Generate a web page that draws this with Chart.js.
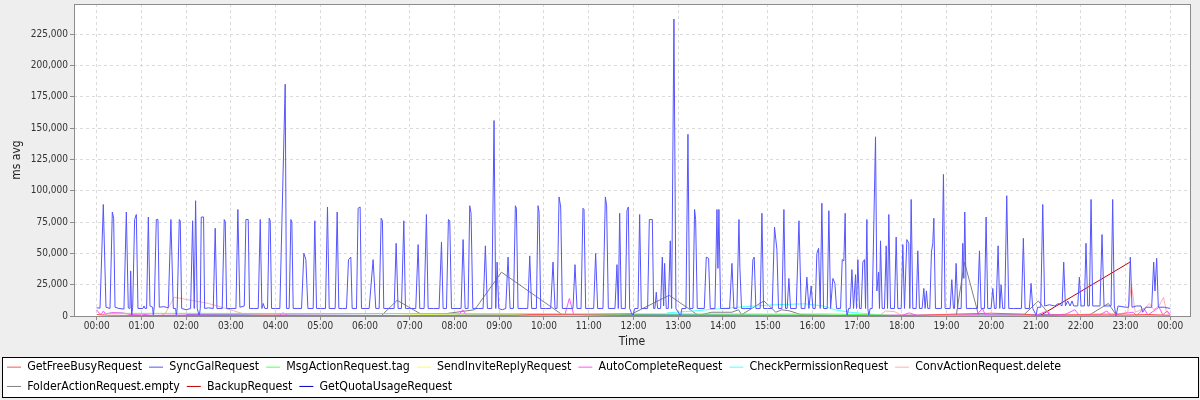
<!DOCTYPE html>
<html>
<head>
<meta charset="utf-8">
<script src="https://cdn.jsdelivr.net/npm/chart.js@4.4.1/dist/chart.umd.min.js"></script>
<style>
  body { margin: 0; background: #eeeeee; }
</style>
</head>
<body>
<canvas id="myChart" width="1200" height="400"></canvas>
<script>
// x = minutes after 00:00, y = ms avg in thousands
var hourTicks = [0, 60, 120, 180, 240, 300, 360, 420, 480, 540, 600, 660, 720,
  780, 840, 900, 960, 1020, 1080, 1140, 1200, 1260, 1320, 1380, 1440];
var hourLabels = ['00:00', '01:00', '02:00', '03:00', '04:00', '05:00', '06:00', '07:00',
  '08:00', '09:00', '10:00', '11:00', '12:00', '13:00', '14:00', '15:00', '16:00', '17:00',
  '18:00', '19:00', '20:00', '21:00', '22:00', '23:00', '00:00'];
var msTicks = [0, 25000, 50000, 75000, 100000, 125000, 150000, 175000, 200000, 225000];

var getFreeBusy = [[0,1.2],[15,0.6],[60,0.4],[200,0.3],[420,0.3],[560,0.5],[585,1.2],[640,1.0],
  [700,0.4],[900,0.3],[1100,0.5],[1150,1.5],[1200,2.2],[1245,1.5],[1262,0.4],[1320,1.0],
  [1380,0.8],[1410,1.2],[1440,0.6]];

var syncGal = [[0,6.5],[4.5,6.3],[8.9,89],[12.5,7],[17.9,6],[21,83],[22.8,78],[24.6,7],[30,6],
  [36.6,5.5],[39.8,83],[42.4,6.5],[44.7,6],[45.6,36],[46.9,0],[48.3,7],[50.9,77],[53.2,81],
  [55.4,6],[62,6],[63.5,8],[65,6],[67,6],[69.3,79],[71.5,8],[75,7],[76,0],[77.3,8],[80,77],
  [82.2,77],[84,7],[90,7.5],[96,6.5],[99.6,77],[102.8,6],[106,6],[106.8,0],[108,6],[110.8,77],
  [112.1,76],[114,6],[120,5],[126,6],[128.7,76],[130.9,6],[132.7,92],[134.9,6],[137.6,0],
  [139,6],[140.3,79],[143.4,79],[144.8,6],[150,6.5],[156.4,6],[159,70],[161.3,6],[168.4,6],
  [171.1,77],[172.5,75],[174.3,6],[180,6],[186.8,6],[189.4,85],[192.1,7],[198,8],[200.2,77],
  [203.3,77],[205,6],[210,6],[216.7,6],[219.4,77],[221.6,6],[223.4,10],[225.6,6],[229.2,6],
  [231.4,78],[232.8,76],[234.6,6],[240,6],[245.7,6],[252.9,185],[254.6,6],[258.2,6],[260.5,77],
  [261.8,75],[263.6,6],[270,6],[274.8,6],[277.9,50],[280.6,45],[283.3,6],[290.4,6],[292.6,76],
  [294.9,6],[300,6],[306.9,6],[309.6,87],[311.9,6],[319.9,6],[322.6,83],[324.8,6],[330,6],
  [335.1,6],[337.8,45],[340.9,47],[342.7,6],[348.5,6],[350.7,86],[353.4,87],[355.2,6],[360,6],
  [365.5,6],[370.8,45],[374.4,6],[378.9,6],[381.6,78],[383.3,76],[385.1,6],[392,6],[399,6],
  [401.7,58],[404.3,6],
  [408.8,6],[412,76],[414.2,6],[420,6],[428,6],[431.2,57],[433.4,6],[439.2,6],[442.3,81],
  [444.6,6],[452,6],[459.3,6],[462.5,59],[464.7,6],[469.2,6],[471.8,77],[473.6,76],[475.9,6],
  [482,6],[488.8,6],[491.5,61],[494.2,6],[498.2,6],[500.4,88],[502.2,82],[504.5,6],[512,6],
  [518.3,6],[521.4,56],[524.1,6],[529.9,6],[533,156],[535.3,6],[537.1,43],[539.3,6],[544,5],
  [548.7,6],[551.8,47],[554.5,6],[559,6],[561.6,88],[563,86],[565.2,6],[572,6],[578.2,6],
  [580.9,48],[583.5,6],[589.8,6],[592,88],[593.4,83],[595.6,6],[602,6],[609,6],[612.1,43],
  [614.8,6],[617.5,6],[620.2,95],[622.4,87],[624.6,6],[632,6],[638.9,6],[641.6,41],[644.3,6],
  [649.7,6],[652.3,86],[653.7,85],[655.9,6],[662,6],[666.6,6],[669.3,50],[672,6],[679.1,6],
  [682.3,95],[684,88],[686.3,6],[695.2,6],[697.9,41],[699.7,6],[701.5,82],[703.7,6],[709.1,6],
  [711.3,84],[713.1,87],[714.9,6],[717,3],[719.4,0],[721.6,6],[726.1,6],[728.3,81],[730.5,6],
  [739,6],[741.3,77],[745.3,77],[747.1,6],[748.8,6],[750.6,19],[752.4,6],[756.4,6],[758.7,47],
  [760.5,8],[761.8,42],[764,6],[766.7,6],[769.4,60],[771.2,6],[774.3,237],[777,6],[783.3,0],
  [785,6],[790.4,6],[793.1,145],[795.3,6],[799.8,6],[802,85],[803.4,77],[805.6,6],[815,6],
  [817.7,47],[820.8,46],[823,6],[829.3,6],[832,85],[833.3,38],[834.6,85],[836.9,6],[843,6],
  [849,6],[852.1,42],[854.7,6],[858.8,6],[861.5,77],[862.8,38],[865,6],[870,6],[877.5,6],
  [880.2,45],[882,47],[884.2,6],[890,6],[892.3,82],[894.5,6],[900,6],[906.1,6],[909.2,71],
  [912.4,53],[914.6,6],[919.1,6],[921.8,85],[924,6],[926.2,6],[928.5,30],[930.7,6],[938.3,6],
  [942,76],[945,6],
  [950,6],[952.6,31],[955.3,6],[958.4,24],[960.7,6],[963.8,6],[966,50],[968.3,54],[970.5,6],
  [972.7,90],[975,6],[979.9,6],[982.1,84],[984.4,6],[987.5,30],[990.2,26],[992.4,6],[997.8,6],
  [1000,45],[1002.2,44],[1004,82],[1005.4,6],[1006.7,0],[1008.5,6],[1010.7,6],[1013,37],
  [1015.2,6],[1017.9,33],[1019.2,6],[1021,45],[1023.2,6],[1025.5,6],[1027.7,43],[1029.9,45],
  [1031.3,6],[1033.1,77],[1034.4,6],[1035.7,0],[1037.5,6],[1040.2,6],[1044.7,143],[1046.5,20],
  [1048.7,35],[1050,6],[1051.4,60],[1053.6,6],[1056.7,6],[1059,56],[1060.8,6],[1062.5,81],
  [1064.8,6],[1070.1,6],[1072.4,63],[1074.6,6],[1079.1,6],[1081.3,57],[1083.5,6],[1086.7,61],
  [1089.3,58],[1090.7,6],[1092.5,93],[1094.7,6],[1099.2,6],[1101.4,52],[1103.6,6],[1107.2,6],
  [1109.5,22],[1111.2,6],[1113,20],[1114.8,6],[1117.5,6],[1119.7,51],[1121.5,58],[1122.9,78],
  [1125.1,6],[1133.1,6],[1135.8,113],[1138,6],[1144.8,6],[1147,29],[1149.2,6],[1150.6,6],
  [1152.8,42],[1155,6],[1159.5,6],[1161.7,58],[1163.1,30],[1164.4,83],[1166.6,6],[1175,6],
  [1181.4,6],[1184.1,52],[1186.3,6],[1190.8,6],[1193,79],[1195.2,6],[1199.7,6],[1202,22],
  [1204.2,6],[1206.4,6],[1209.1,56],[1211.3,6],[1213.1,25],[1215.3,6],[1218,6],[1220.7,96],
  [1223.4,6],[1230,6],[1240.4,6],[1243,62],[1245.3,6],[1251.1,6],[1253.3,26],[1255.6,6],
  [1259,2],[1260,0],[1262,7],[1266.3,7],[1269,89],[1271.6,8],[1278,9],[1285,8],[1290,10],
  [1294.9,8],[1297.1,43],[1299.4,8],[1302.5,12],[1305.6,8],[1308.3,12],[1310.5,8],[1315.9,8],
  [1318.1,31],[1320.4,8],[1324.8,8],[1327,58],[1329.3,8],[1331.5,8],[1333.8,93],[1336,8],
  [1345.8,8],[1348.5,65],[1351.2,8],[1360.6,8],[1362.8,93],[1365,8],[1367.3,0],[1370,8],
  [1380,7],[1384.2,7],[1386.5,47],[1388.7,7],[1395,8],[1400.8,8],[1403,3],[1407.5,7],
  [1415.1,7],[1417.8,43],[1419.5,20],[1421.8,46],[1424,7],[1432,7],[1440,6]];

var msgActionTag = [[8,0.2],[11,2.1],[120,2.1],[300,2.0],[420,1.9],[600,1.7],[780,1.6],
  [900,1.5],[980,1.6],[1040,1.0],[1070,0.3],[1200,0.2],[1440,0.2]];

var sendInviteReply = [[400,0.2],[425,0.9],[445,1.1],[470,0.8],[520,0.6],[580,1.0],[640,0.5],
  [700,0.7],[760,0.3],[900,0.2]];

var autoComplete = [[0,5],[3,2.5],[6,1.2],[9,4],[12,1.5],[20,2.8],[35,2.5],[45,1.2],[60,1.5],
  [75,0.5],[120,0.8],[200,0.4],[245,0.5],[250,2.5],[256,0.5],[400,0.3],[485,0.5],[491,5],
  [496,0.5],[600,0.5],[628,1],[634,14],[640,1],[700,0.3],[1000,0.3],[1080,0.5],[1090,2.5],
  [1100,0.5],[1180,0.8],[1188,6],[1192,0.8],[1210,0.5],[1260,0.6],[1275,4],[1280,0.5],
  [1300,1.5],[1312,5],[1318,0.5],[1345,0.8],[1355,4],[1360,0.5],[1390,3],[1395,0.5],
  [1405,6],[1410,0.8],[1425,7],[1430,1],[1436,4],[1440,1]];

var checkPermission = [[765,2.5],[790,3.5],[830,5.5],[870,7.5],[910,9],[950,9.7],[975,8],
  [990,5],[1010,3],[1040,1.5],[1060,0.3]];

var convActionDelete = [[85,0],[92,2],[104,15],[150,10],[185,4],[195,2],[260,0.5],[500,0.3],
  [1050,0.3],[1058,4],[1070,3.5],[1080,0.5],[1290,0.5],[1330,1.5],[1375,2],[1383,3],
  [1388,25],[1393,3],[1405,6],[1412,10],[1418,5],[1425,8],[1431,15],[1435,3],[1440,1]];

var folderActionEmpty = [[382,0.3],[403,12.5],[435,1.5],[470,2],[507,5],[543,35],[625,0.8],
  [719,2],[768,16.5],[807,0.5],[825,3],[852,3],[861,5],[865,1],[895,12],[911,3],[919,5],
  [930,4],[945,1],[1000,0.3],[1153,0.5],[1164,43],[1183,0.5],[1243,0.5],[1263,12],[1279,0.5],
  [1332,1],[1357,10],[1368,0.5]];

var backup = [[1266,0.5],[1386,43]];

var getQuotaUsage = [[120,0.8],[400,0.4],[700,0.9],[1000,0.4],[1300,0.8]];

var FONT = "'DejaVu Sans Condensed', 'DejaVu Sans', sans-serif";
Chart.defaults.font.family = FONT;

function series(label, color, points) {
  return {
    label: label,
    data: points.map(function (p) { return {x: p[0], y: p[1] * 1000}; }),
    borderColor: color,
    backgroundColor: color,
    borderWidth: 1,
    pointRadius: 0,
    fill: false,
    tension: 0
  };
}

// grey page, white plot, plot outline and boxed legend
var frame = {
  id: 'frame',
  beforeDraw: function (chart) {
    var ctx = chart.ctx, a = chart.chartArea;
    ctx.save();
    ctx.fillStyle = '#eeeeee';
    ctx.fillRect(0, 0, chart.width, chart.height);
    ctx.fillStyle = '#ffffff';
    ctx.fillRect(a.left, a.top, a.right - a.left, a.bottom - a.top);
    ctx.fillRect(2, 357, 1197, 41);
    ctx.strokeStyle = '#000000';
    ctx.lineWidth = 1;
    ctx.strokeRect(2.5, 357.5, 1196, 40);
    ctx.restore();
  },
  afterDraw: function (chart) {
    var ctx = chart.ctx, a = chart.chartArea;
    ctx.save();
    ctx.strokeStyle = '#8c8c8c';
    ctx.lineWidth = 1;
    ctx.strokeRect(a.left + 0.5, a.top + 0.5, a.right - a.left, a.bottom - a.top);
    ctx.restore();
  }
};

var ctx = document.getElementById('myChart').getContext('2d');
var myChart = new Chart(ctx, {
  type: 'line',
  data: {
    datasets: [
      series('GetFreeBusyRequest', '#ff5555', getFreeBusy),
      series('SyncGalRequest', '#5555ff', syncGal),
      series('MsgActionRequest.tag', '#55ff55', msgActionTag),
      series('SendInviteReplyRequest', '#ffff55', sendInviteReply),
      series('AutoCompleteRequest', '#ff55ff', autoComplete),
      series('CheckPermissionRequest', '#55ffff', checkPermission),
      series('ConvActionRequest.delete', '#ffafaf', convActionDelete),
      series('FolderActionRequest.empty', '#808080', folderActionEmpty),
      series('BackupRequest', '#c00000', backup),
      series('GetQuotaUsageRequest', '#0000c0', getQuotaUsage)
    ]
  },
  options: {
    responsive: false,
    animation: false,
    events: [],
    layout: { padding: { left: 0, right: 10, top: 4, bottom: 0 } },
    plugins: {
      tooltip: { enabled: false },
      legend: {
        position: 'bottom',
        align: 'start',
        maxHeight: 46,
        labels: {
          usePointStyle: true,
          pointStyle: 'line',
          pointStyleWidth: 14,
          boxWidth: 14,
          padding: 7,
          color: '#000000',
          font: { size: 12.3 }
        }
      }
    },
    scales: {
      x: {
        type: 'linear',
        min: -30.4,
        max: 1466.5,
        afterBuildTicks: function (axis) {
          axis.ticks = hourTicks.map(function (v) { return {value: v}; });
        },
        afterFit: function (s) {
          s.height = 38;
          s.paddingLeft = 0;
          s.paddingRight = 0;
        },
        ticks: {
          callback: function (v, i) { return hourLabels[i]; },
          autoSkip: false,
          maxRotation: 0,
          padding: 0,
          color: '#333333',
          font: { size: 10 }
        },
        grid: { color: '#dadada', tickLength: 4, tickColor: '#8c8c8c', tickBorderDash: [] },
        border: { display: false, dash: [3, 3] },
        title: { display: true, text: 'Time', color: '#222222', font: { size: 12 },
          padding: { top: 0, bottom: 5 } }
      },
      y: {
        min: 0,
        max: 249000,
        afterBuildTicks: function (axis) {
          axis.ticks = msTicks.map(function (v) { return {value: v}; });
        },
        afterFit: function (s) {
          s.width = 74;
          s.paddingTop = 0;
          s.paddingBottom = 0;
        },
        ticks: {
          callback: function (v) { return v.toLocaleString('en-US'); },
          padding: 2,
          color: '#333333',
          font: { size: 10 }
        },
        grid: { color: '#dadada', tickLength: 4, tickColor: '#8c8c8c', tickBorderDash: [] },
        border: { display: false, dash: [3, 3] },
        title: { display: true, text: 'ms avg', color: '#222222', font: { size: 12 },
          padding: { top: 10, bottom: 0 } }
      }
    }
  },
  plugins: [frame]
});
</script>
</body>
</html>
